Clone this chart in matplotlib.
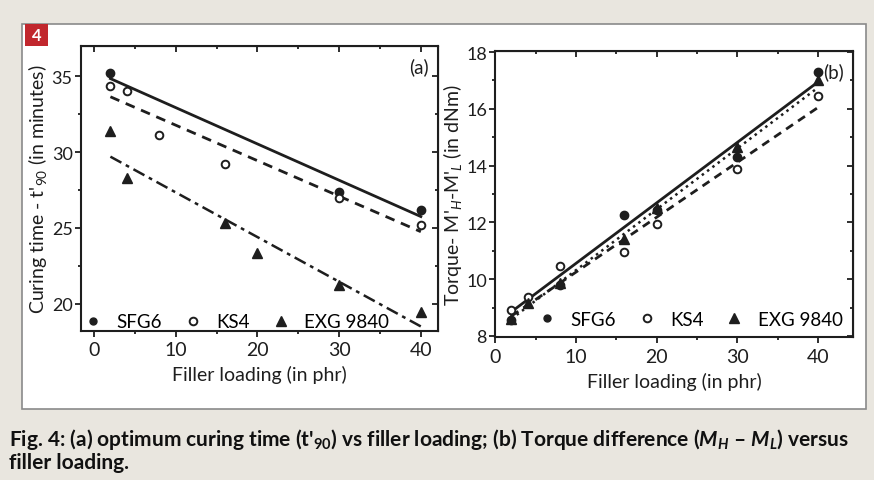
import matplotlib
matplotlib.use("Agg")
import matplotlib.pyplot as plt
from matplotlib.patches import Rectangle
from matplotlib.lines import Line2D
from matplotlib.ticker import MultipleLocator

plt.rcParams['font.family'] = ['Lato', 'DejaVu Sans']
plt.rcParams['mathtext.fontset'] = 'custom'
plt.rcParams['mathtext.rm'] = 'Lato'
plt.rcParams['mathtext.it'] = 'Lato:italic'
plt.rcParams['mathtext.bf'] = 'Lato:bold'
plt.rcParams['mathtext.bfit'] = 'Lato:bold:italic'

# panel (a): curing time
a_sfg6_x = [2, 30, 40]
a_sfg6_y = [35.2, 27.4, 26.2]
a_ks4_x = [2, 4, 8, 16, 30, 40]
a_ks4_y = [34.35, 34.05, 31.1, 29.2, 27.0, 25.2]
a_exg_x = [2, 4, 16, 20, 30, 40]
a_exg_y = [31.4, 28.3, 25.3, 23.35, 21.25, 19.45]
fit_x = [2, 40]
a_sfg6_fit = [34.85, 25.75]
a_ks4_fit = [33.65, 24.75]
a_exg_fit = [29.7, 18.5]

# panel (b): torque difference
b_sfg6_x = [2, 8, 16, 20, 30, 40]
b_sfg6_y = [8.55, 9.8, 12.25, 12.45, 14.3, 17.3]
b_ks4_x = [2, 4, 8, 16, 20, 30, 40]
b_ks4_y = [8.9, 9.37, 10.45, 10.95, 11.95, 13.88, 16.45]
b_exg_x = [2, 4, 8, 16, 20, 30, 40]
b_exg_y = [8.6, 9.15, 9.85, 11.4, 12.5, 14.65, 17.0]
b_sfg6_fit = [8.85, 16.95]
b_ks4_fit = [8.7, 16.05]
b_exg_fit = [8.6, 16.75]

labels = ['SFG6', 'KS4', 'EXG 9840']
ink = '#1e1e1e'

fig = plt.figure(figsize=(8.74, 4.81), dpi=100)
fig.patch.set_facecolor('#e9e6df')

# white panel behind the plots
fig.patches.append(Rectangle((22/874, 1-410/481), (866-22)/874, (410-25)/481,
                             transform=fig.transFigure, facecolor='white',
                             edgecolor='#8a8a8a', lw=1.2, zorder=-2))
fig.patches.append(Rectangle((25/874, 1-47/481), 23/874, 22/481,
                             transform=fig.transFigure, facecolor='#c1272d',
                             edgecolor='none', zorder=-1))
fig.text(36.5/874, 1-36/481, '4', color='white', fontsize=12, fontweight='bold',
         ha='center', va='center')


def style_axes(ax, major_y, minor_y):
    ax.set_facecolor('white')
    for s in ax.spines.values():
        s.set_linewidth(1.5)
        s.set_color(ink)
    ax.xaxis.set_major_locator(MultipleLocator(10))
    ax.xaxis.set_minor_locator(MultipleLocator(5))
    ax.yaxis.set_major_locator(MultipleLocator(major_y))
    ax.yaxis.set_minor_locator(MultipleLocator(minor_y))
    ax.tick_params(which='both', direction='out', colors=ink,
                   labelsize=14, width=1.3, pad=3)
    ax.tick_params(axis='y', pad=1.5, labelsize=13)
    ax.tick_params(which='major', length=4.5)
    ax.tick_params(which='minor', length=2.5)
    # inward ticks on top and right
    top = ax.secondary_xaxis('top')
    top.xaxis.set_major_locator(MultipleLocator(10))
    top.xaxis.set_minor_locator(MultipleLocator(5))
    top.tick_params(which='both', direction='in', labeltop=False, colors=ink, width=1.3)
    top.tick_params(which='major', length=4.5)
    top.tick_params(which='minor', length=2.5)
    right = ax.secondary_yaxis('right')
    right.yaxis.set_major_locator(MultipleLocator(major_y))
    right.yaxis.set_minor_locator(MultipleLocator(minor_y))
    right.tick_params(which='both', direction='in', labelright=False, colors=ink, width=1.3)
    right.tick_params(which='major', length=4.5)
    right.tick_params(which='minor', length=2.5)
    ax.set_xlabel('Filler loading (in phr)', fontsize=14, color=ink, labelpad=5)


def legend_handles():
    return [
        Line2D([], [], ls='none', marker='o', ms=5, color=ink),
        Line2D([], [], ls='none', marker='o', ms=5.5, mfc='white', mec=ink, mew=1.4),
        Line2D([], [], ls='none', marker='^', ms=6.5, color=ink),
    ]


ax1 = fig.add_axes([81/874, 1-332/481, (438-81)/874, (332-47)/481])
ax1.plot(fit_x, a_sfg6_fit, '-', color=ink, lw=2.0)
ax1.plot(fit_x, a_ks4_fit, '--', color=ink, lw=2.0, dashes=(3.5, 2.5))
ax1.plot(fit_x, a_exg_fit, '-.', color=ink, lw=1.8, dashes=(5, 2, 1.5, 2))
ax1.plot(a_sfg6_x, a_sfg6_y, 'o', ms=6, color=ink, ls='none')
ax1.plot(a_ks4_x, a_ks4_y, 'o', ms=5.5, mfc='white', mec=ink, mew=1.4, ls='none')
ax1.plot(a_exg_x, a_exg_y, '^', ms=7.5, color=ink, ls='none')
ax1.set_xlim(-1.6, 42.1)
ax1.set_ylim(18.2, 37.0)
style_axes(ax1, 5, 2.5)
ax1.set_ylabel("Curing time - t$'_{90}$ (in minutes)", fontsize=14, color=ink)
ax1.yaxis.set_label_coords(-0.09, 0.5)
ax1.text(0.975, 0.93, '(a)', transform=ax1.transAxes, ha='right', va='center',
         fontsize=13.5, color=ink)
ax1.legend(legend_handles(), labels, loc='center', bbox_to_anchor=(0.435, 0.032),
           ncol=3, frameon=False, fontsize=13.5, handletextpad=0.75,
           columnspacing=1.15, borderpad=0, handlelength=1.0)

ax2 = fig.add_axes([495.3/874, 1-338.3/481, (852.7-495.3)/874, (338.3-51.7)/481])
ax2.plot(fit_x, b_sfg6_fit, '-', color=ink, lw=2.0)
ax2.plot(fit_x, b_ks4_fit, '--', color=ink, lw=2.0, dashes=(3, 2.2))
ax2.plot(fit_x, b_exg_fit, ':', color=ink, lw=1.8)
ax2.plot(b_sfg6_x, b_sfg6_y, 'o', ms=6, color=ink, ls='none')
ax2.plot(b_ks4_x, b_ks4_y, 'o', ms=5.5, mfc='white', mec=ink, mew=1.4, ls='none')
ax2.plot(b_exg_x, b_exg_y, '^', ms=6.5, color=ink, ls='none')
ax2.set_xlim(0, 44.3)
ax2.set_ylim(7.95, 18.05)
style_axes(ax2, 2, 1)
ax2.set_ylabel("Torque- M$'_H$-M$'_L$ (in dNm)", fontsize=14, color=ink)
ax2.yaxis.set_label_coords(-0.088, 0.5)
ax2.text(0.975, 0.93, '(b)', transform=ax2.transAxes, ha='right', va='center',
         fontsize=13.5, color=ink)
ax2.legend(legend_handles(), labels, loc='center', bbox_to_anchor=(0.545, 0.063),
           ncol=3, frameon=False, fontsize=13.5, handletextpad=0.75,
           columnspacing=1.15, borderpad=0, handlelength=1.0)

fig.text(9/874, 1-440/481,
         "Fig. 4: (a) optimum curing time (t$\\mathbf{'_{90}}$) vs filler loading; "
         "(b) Torque difference ($\\mathbfit{M_H}$ \u2013 $\\mathbfit{M_L}$) versus",
         fontsize=15, fontweight='bold', color='#111111', va='center', ha='left')
fig.text(9/874, 1-463/481, 'filler loading.', fontsize=15, fontweight='bold',
         color='#111111', va='center', ha='left')

fig.savefig('out.png', dpi=100, facecolor=fig.get_facecolor())
